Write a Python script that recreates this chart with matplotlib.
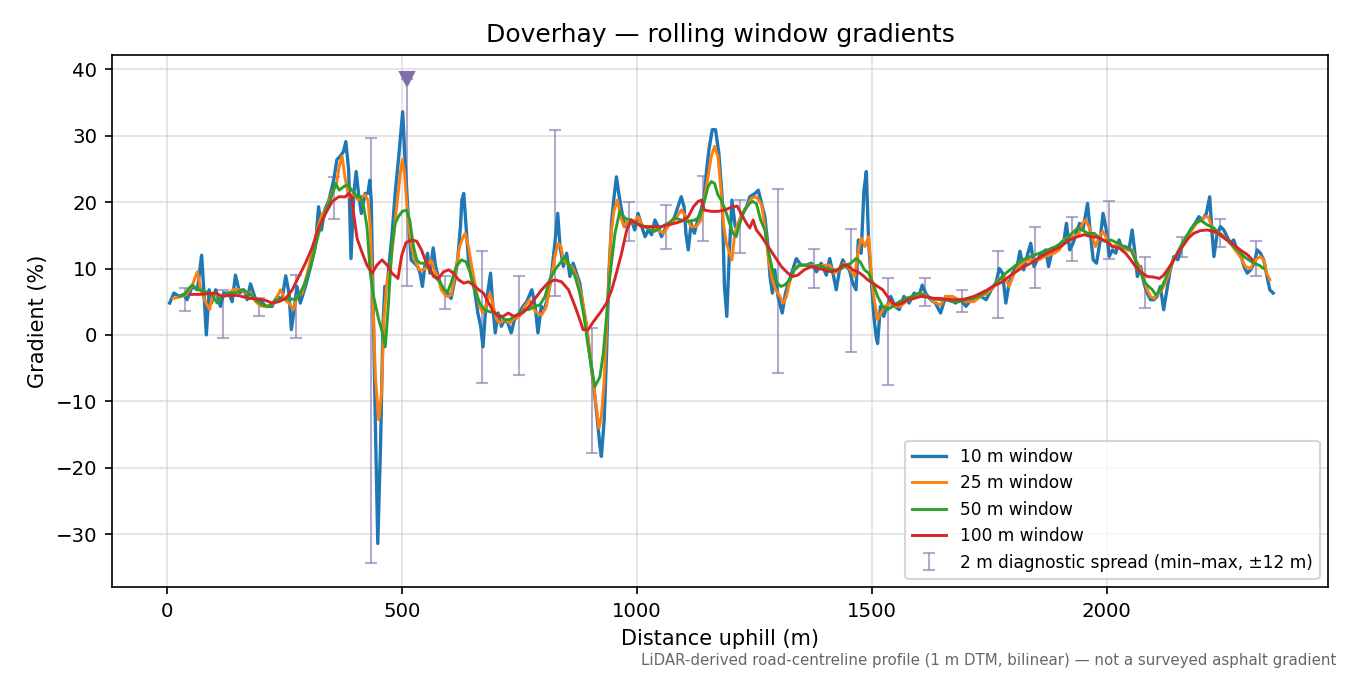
import matplotlib
matplotlib.use("Agg")
import matplotlib.pyplot as plt
import numpy as np

# ---------------- data ----------------
W10 = [(5,4.8),(14,6.3),(25,5.8),(35,6.1),(42,5.3),(53,7.3),(64,6.8),(73,12.0),(78,6.3),(83,0.0),(89,6.8),(94,4.8),(103,6.8),(113,4.3),(120,6.3),(131,6.3),(138,5.0),(145,9.0),(154,6.3),(163,6.8),(170,5.3),(177,7.7),(188,5.3),(198,5.3),(209,4.3),(223,4.3),(234,5.8),(244,5.3),(252,8.9),(259,6.3),(264,0.8),(269,3.3),(276,7.3),(283,4.8),(294,7.3),(305,10.3),(315,13.3),(322,19.3),(328,15.8),(335,18.8),(344,20.3),(354,23.3),(361,26.4),(368,26.9),(375,27.6),(380,29.1),(386,24.8),(391,11.5),(397,21.3),(402,24.6),(407,21.3),(413,18.3),(421,21.3),(427,21.3),(431,23.3),(434,20.3),(439,1.3),(443,-13.8),(448,-31.4),(454,-16.3),(459,1.3),(463,7.3),(468,7.3),(473,11.3),(478,14.8),(485,21.3),(492,26.4),(497,30.4),(501,33.6),(506,26.4),(512,18.8),(519,11.3),(526,10.8),(533,10.3),(538,9.3),(543,7.3),(548,10.3),(554,12.3),(559,9.3),(566,13.1),(571,10.3),(576,9.0),(583,7.3),(590,6.3),(597,6.3),(604,5.5),(612,8.3),(618,11.3),(624,16.3),(627,20.3),(631,21.3),(636,16.3),(641,11.3),(647,8.8),(654,6.8),(661,3.3),(667,1.3),(672,-1.8),(677,3.3),(682,6.3),(688,9.3),(693,4.3),(698,0.3),(704,3.3),(711,1.3),(718,2.3),(725,1.8),(732,0.3),(739,2.3),(746,2.8),(757,4.3),(765,5.0),(776,6.8),(783,4.3),(789,0.3),(796,4.3),(803,3.8),(810,5.8),(818,9.3),(825,13.8),(831,18.3),(836,13.3),(843,10.3),(850,12.3),(857,8.8),(864,10.8),(871,9.3),(878,7.8),(885,4.3),(892,1.3),(899,-2.8),(907,-7.3),(914,-11.8),(921,-16.8),(924,-18.3),(930,-12.8),(935,-2.8),(940,9.3),(946,17.3),(951,20.8),(956,23.8),(961,21.3),(967,18.8),(974,16.3),(981,17.3),(988,17.3),(995,15.8),(1002,18.3),(1010,16.3),(1017,14.8),(1024,15.8),(1031,15.1),(1038,17.3),(1045,16.3),(1052,14.8),(1062,16.3),(1073,16.8),(1080,17.8),(1087,19.3),(1094,20.8),(1100,19.3),(1104,15.3),(1109,12.8),(1115,16.8),(1122,15.3),(1129,17.3),(1136,18.8),(1143,20.8),(1148,24.8),(1153,27.9),(1160,30.9),(1167,30.9),(1174,27.4),(1181,20.8),(1186,7.3),(1191,2.8),(1197,13.3),(1202,20.3),(1209,16.3),(1216,16.3),(1223,18.0),(1233,19.3),(1240,20.8),(1251,21.3),(1258,21.8),(1265,19.8),(1272,17.8),(1278,13.8),(1283,8.8),(1288,6.3),(1293,9.8),(1300,5.8),(1309,3.3),(1316,6.3),(1322,7.8),(1329,9.3),(1339,11.5),(1349,10.5),(1360,10.5),(1371,10.8),(1382,9.5),(1392,10.8),(1403,9.0),(1410,11.5),(1417,9.3),(1424,6.8),(1431,9.8),(1438,11.3),(1445,10.3),(1452,9.8),(1459,7.8),(1466,6.8),(1471,14.3),(1477,12.3),(1483,21.8),(1488,24.6),(1493,13.8),(1498,8.8),(1504,2.8),(1509,-0.3),(1512,-1.3),(1518,4.3),(1525,2.8),(1532,4.3),(1540,5.8),(1549,4.3),(1558,3.8),(1568,5.8),(1579,4.8),(1590,6.3),(1600,5.8),(1607,7.5),(1614,6.3),(1625,5.3),(1635,4.8),(1646,3.3),(1657,5.8),(1667,5.3),(1678,4.8),(1689,5.3),(1700,4.3),(1711,5.3),(1721,5.8),(1732,5.8),(1743,5.3),(1754,6.8),(1764,7.8),(1771,10.0),(1778,9.3),(1785,4.8),(1792,7.8),(1799,9.3),(1809,10.3),(1815,12.6),(1823,9.8),(1830,11.8),(1838,13.8),(1845,10.3),(1852,11.3),(1861,12.3),(1870,12.8),(1876,10.3),(1884,12.8),(1893,12.8),(1902,13.8),(1909,14.3),(1914,16.8),(1921,12.8),(1928,13.8),(1935,15.3),(1942,16.8),(1949,15.8),(1954,17.8),(1959,19.8),(1965,15.3),(1971,11.3),(1978,10.8),(1985,13.8),(1992,18.3),(1999,15.8),(2005,11.8),(2012,12.8),(2019,12.3),(2026,14.3),(2033,12.8),(2040,13.3),(2047,12.8),(2054,15.8),(2059,12.8),(2065,8.8),(2072,10.3),(2079,7.8),(2086,6.3),(2093,5.3),(2100,5.3),(2107,5.8),(2114,7.3),(2121,3.8),(2128,6.8),(2135,9.8),(2143,11.8),(2151,11.3),(2160,13.3),(2169,14.3),(2178,15.8),(2188,16.8),(2196,17.8),(2203,17.3),(2212,18.3),(2219,20.8),(2224,15.3),(2228,11.8),(2235,15.3),(2242,16.3),(2249,15.8),(2256,14.8),(2263,13.8),(2270,14.3),(2277,12.8),(2284,12.3),(2292,10.3),(2299,9.3),(2306,9.8),(2314,10.8),(2320,12.8),(2327,12.3),(2334,11.3),(2341,8.8),(2347,6.8),(2354,6.3)]

W25 = [(12.5,5.5),(25,5.7),(39,6.0),(52,7.3),(64,9.5),(71,6.8),(81,5.0),(90,3.8),(97,6.3),(106,6.0),(118,5.8),(131,6.3),(142,6.9),(154,6.8),(166,6.3),(177,6.4),(188,5.0),(198,4.4),(213,4.2),(227,4.8),(241,6.8),(250,5.3),(259,4.8),(269,3.8),(276,5.8),(287,6.3),(298,9.3),(308,12.3),(319,15.8),(329,18.1),(340,19.3),(351,21.6),(359,22.3),(366,25.4),(372,26.9),(378,23.8),(386,20.8),(397,21.3),(406,20.3),(414,20.8),(421,21.1),(427,20.3),(432,16.3),(437,6.3),(443,-6.3),(450,-12.8),(456,-8.8),(461,2.3),(468,8.3),(475,10.3),(482,14.8),(489,19.8),(496,24.3),(500,26.4),(505,24.3),(509,20.3),(514,16.3),(520,13.3),(527,11.3),(536,9.8),(545,9.8),(554,10.3),(561,11.3),(568,9.8),(576,8.8),(583,6.8),(594,5.8),(604,6.0),(613,9.3),(622,13.3),(630,14.8),(634,15.3),(641,13.3),(648,10.3),(656,7.3),(665,4.3),(672,3.3),(680,4.8),(687,6.3),(694,4.3),(701,2.3),(708,1.8),(718,2.3),(729,1.8),(739,2.5),(750,2.8),(761,4.3),(771,5.3),(783,3.5),(797,3.0),(807,4.3),(818,8.8),(825,11.8),(832,13.8),(838,13.3),(843,11.3),(850,10.8),(861,10.3),(871,8.8),(882,5.8),(892,1.8),(899,-2.3),(907,-7.3),(914,-11.3),(919,-14.1),(924,-12.3),(930,-6.8),(937,4.3),(944,14.8),(951,18.8),(958,20.3),(965,17.8),(972,16.3),(981,17.3),(991,16.8),(1002,17.8),(1013,16.3),(1024,16.3),(1034,16.3),(1045,15.8),(1056,15.3),(1066,16.3),(1080,17.3),(1094,18.8),(1104,17.8),(1115,16.3),(1126,16.3),(1136,17.3),(1143,20.3),(1151,23.8),(1158,26.9),(1165,28.4),(1172,26.9),(1178,22.3),(1183,17.3),(1190,13.8),(1197,12.3),(1202,11.3),(1208,15.3),(1215,16.8),(1222,18.0),(1233,19.3),(1244,20.6),(1254,20.8),(1265,19.6),(1273,15.8),(1280,11.3),(1288,8.3),(1295,6.8),(1304,5.8),(1311,4.8),(1318,5.8),(1325,8.0),(1334,9.8),(1344,10.5),(1356,10.5),(1371,10.5),(1385,10.3),(1399,10.5),(1410,10.5),(1420,9.3),(1431,9.8),(1441,10.8),(1452,10.0),(1463,8.8),(1470,12.3),(1477,14.6),(1485,13.3),(1493,14.8),(1500,7.8),(1506,4.8),(1512,2.3),(1519,3.3),(1528,4.3),(1537,4.8),(1547,4.3),(1561,4.3),(1576,5.3),(1590,5.8),(1604,6.3),(1618,5.8),(1632,5.0),(1646,4.5),(1657,5.8),(1671,5.8),(1685,5.3),(1700,5.0),(1717,5.0),(1732,5.8),(1746,6.3),(1760,7.3),(1771,8.5),(1782,8.8),(1792,7.3),(1803,9.3),(1813,10.3),(1824,11.0),(1835,11.3),(1845,11.3),(1856,11.3),(1867,11.8),(1877,12.0),(1888,12.3),(1899,12.8),(1909,14.3),(1920,14.8),(1931,14.8),(1941,15.3),(1948,16.8),(1955,17.3),(1962,16.3),(1969,14.8),(1976,13.3),(1984,14.8),(1992,15.6),(2001,14.3),(2012,13.3),(2022,13.6),(2033,13.3),(2043,12.8),(2054,12.8),(2061,11.3),(2070,10.3),(2079,8.3),(2086,6.8),(2093,5.8),(2101,5.5),(2110,6.3),(2117,6.8),(2124,7.8),(2131,9.0),(2141,11.3),(2151,12.3),(2160,13.3),(2170,14.8),(2181,15.8),(2191,16.8),(2202,17.3),(2209,17.8),(2216,17.8),(2223,16.3),(2231,15.3),(2242,15.3),(2252,14.6),(2263,13.8),(2273,12.8),(2284,11.8),(2295,10.3),(2306,10.0),(2316,11.3),(2327,11.8),(2334,11.3),(2340,9.3),(2347,8.3)]

W50 = [(25,5.8),(35,6.0),(46,7.0),(53,7.5),(67,6.8),(81,6.5),(96,6.0),(106,4.8),(117,5.8),(131,6.3),(145,6.3),(159,6.8),(174,6.3),(188,5.3),(202,4.5),(216,4.3),(230,5.3),(244,5.3),(259,5.5),(273,5.3),(283,6.3),(294,8.0),(305,10.3),(315,13.3),(326,16.3),(337,18.8),(347,20.3),(358,22.8),(366,21.8),(375,22.3),(383,22.6),(393,21.8),(404,20.8),(411,20.8),(418,19.3),(425,16.3),(432,9.3),(439,5.8),(450,2.3),(458,0.3),(464,-1.8),(471,5.0),(478,13.3),(485,16.8),(492,17.8),(500,18.6),(509,18.8),(516,17.3),(524,13.3),(531,11.3),(538,10.8),(548,10.8),(559,9.8),(569,8.8),(580,8.0),(590,6.8),(597,6.5),(604,7.8),(615,10.3),(626,11.3),(636,11.0),(645,9.3),(654,6.8),(665,4.8),(675,3.8),(686,3.5),(696,3.3),(707,3.0),(718,2.3),(729,2.3),(739,2.8),(750,3.3),(761,3.8),(769,3.8),(783,4.3),(793,4.5),(804,5.8),(814,8.3),(825,9.8),(836,10.8),(846,11.8),(857,10.3),(868,8.8),(878,6.3),(887,2.8),(896,-1.8),(903,-4.8),(910,-7.8),(921,-6.3),(928,-2.8),(935,2.8),(942,8.8),(953,15.3),(963,18.6),(974,17.6),(984,17.3),(995,16.8),(1006,16.6),(1017,16.3),(1027,15.8),(1038,15.6),(1052,16.3),(1066,16.8),(1080,17.6),(1094,17.3),(1109,17.1),(1123,17.3),(1133,17.8),(1142,19.8),(1151,22.3),(1158,23.1),(1165,22.8),(1172,21.1),(1179,20.3),(1188,18.8),(1197,16.8),(1204,15.3),(1211,14.8),(1218,16.8),(1229,18.8),(1239,19.8),(1246,20.1),(1254,19.8),(1263,17.3),(1272,15.8),(1279,12.8),(1288,9.8),(1296,8.0),(1306,7.3),(1314,7.5),(1325,8.3),(1335,9.8),(1346,10.5),(1360,10.5),(1374,10.3),(1388,10.5),(1403,10.0),(1417,9.8),(1431,9.8),(1445,10.5),(1455,10.8),(1466,11.5),(1475,11.0),(1484,9.8),(1493,9.3),(1502,7.8),(1512,5.8),(1523,4.3),(1533,3.8),(1544,4.3),(1558,5.0),(1572,5.5),(1586,5.8),(1600,6.3),(1614,5.8),(1628,5.5),(1643,5.3),(1657,5.3),(1671,5.0),(1685,5.0),(1700,5.3),(1714,5.5),(1728,5.8),(1742,6.5),(1757,7.3),(1771,8.3),(1785,9.3),(1803,10.3),(1821,11.3),(1838,11.8),(1856,12.3),(1874,12.8),(1891,13.3),(1909,14.1),(1923,15.1),(1938,16.1),(1948,15.8),(1959,15.3),(1973,15.3),(1984,14.6),(1995,14.1),(2009,14.3),(2023,13.8),(2037,13.3),(2051,12.8),(2061,11.3),(2072,9.3),(2082,7.8),(2089,7.3),(2097,6.8),(2104,6.0),(2114,6.8),(2124,8.3),(2135,10.3),(2146,11.8),(2157,13.3),(2167,14.6),(2178,15.8),(2188,16.8),(2199,17.3),(2213,16.6),(2228,16.1),(2238,15.3),(2249,14.6),(2259,14.1),(2270,13.3),(2281,12.6),(2292,11.8),(2302,11.3),(2313,10.8),(2324,10.5),(2334,10.0)]

W100 = [(50,6.1),(67,6.1),(85,6.2),(103,6.3),(117,5.8),(135,6.0),(152,5.9),(174,5.5),(191,5.4),(209,5.2),(223,4.8),(237,5.0),(252,5.5),(266,6.8),(280,8.8),(294,10.8),(308,13.1),(322,16.1),(337,18.3),(351,20.1),(365,20.8),(379,20.8),(386,21.3),(392,20.8),(397,18.0),(404,14.5),(414,12.5),(425,10.5),(436,9.3),(446,10.5),(457,11.3),(468,10.5),(478,9.3),(491,8.5),(499,12.0),(508,13.9),(521,14.3),(531,14.1),(541,12.8),(549,11.3),(558,10.0),(567,8.8),(577,8.5),(588,9.5),(599,9.8),(609,9.3),(620,8.3),(631,7.8),(641,8.0),(652,7.5),(663,6.8),(673,6.3),(684,4.8),(694,3.5),(705,2.8),(715,2.8),(726,3.3),(737,2.8),(747,3.0),(758,3.4),(769,4.2),(783,5.5),(797,6.8),(810,7.8),(825,8.3),(839,8.0),(854,6.8),(868,4.3),(878,2.3),(885,0.8),(896,0.8),(907,2.0),(921,3.3),(935,4.8),(946,6.8),(956,9.3),(967,12.3),(978,15.8),(988,17.3),(999,16.8),(1010,16.3),(1024,16.3),(1038,16.3),(1052,16.3),(1066,16.6),(1080,16.8),(1094,17.1),(1109,17.8),(1120,19.3),(1130,20.1),(1137,20.3),(1143,18.8),(1158,18.6),(1172,18.6),(1186,18.8),(1200,19.2),(1213,19.4),(1222,18.2),(1233,16.8),(1240,16.1),(1247,17.3),(1254,15.8),(1265,14.8),(1279,13.3),(1293,11.8),(1307,10.3),(1321,9.3),(1331,8.8),(1342,9.0),(1356,9.8),(1371,10.3),(1385,10.0),(1399,9.8),(1413,9.5),(1427,9.8),(1438,10.5),(1448,10.5),(1459,9.8),(1470,9.5),(1480,9.0),(1491,8.3),(1502,7.8),(1512,7.3),(1523,6.8),(1533,5.8),(1544,4.8),(1554,4.5),(1565,4.8),(1576,5.3),(1590,5.5),(1604,5.8),(1618,5.7),(1632,5.5),(1646,5.5),(1660,5.3),(1675,5.3),(1689,5.3),(1703,5.5),(1717,5.8),(1732,6.3),(1746,6.8),(1760,7.4),(1775,7.9),(1796,9.0),(1817,10.0),(1838,10.8),(1860,11.8),(1881,12.6),(1902,13.3),(1920,14.3),(1938,14.8),(1952,15.1),(1966,14.8),(1980,14.7),(1998,14.1),(2012,13.3),(2026,13.1),(2040,12.3),(2051,11.3),(2061,10.3),(2072,9.5),(2086,8.8),(2100,8.7),(2112,8.5),(2121,9.0),(2131,10.0),(2143,11.3),(2153,12.6),(2164,13.6),(2174,14.6),(2185,15.3),(2199,15.7),(2213,15.8),(2228,15.6),(2242,15.1),(2256,14.3),(2270,13.6),(2284,12.8),(2299,12.1),(2310,11.3)]

SPREAD_X = [38, 118, 196, 274, 355, 433, 510, 591, 670, 748, 825, 905, 982, 1061, 1141, 1220, 1299, 1377, 1456, 1534, 1613, 1691, 1768, 1847, 1925, 2004, 2082, 2161, 2240, 2318]
SPREAD_LO = [3.6, -0.5, 2.8, -0.5, 17.5, -34.3, 7.4, 3.9, -7.3, -6.1, 5.9, -17.8, 14.2, 13.0, 14.2, 12.4, -5.8, 7.1, -2.5, -7.6, 4.4, 3.4, 2.6, 7.0, 11.2, 11.5, 4.1, 11.8, 13.3, 8.8]
SPREAD_HI = [7.1, 6.8, 5.6, 9.0, 23.8, 29.6, 38.6, 8.9, 12.7, 8.9, 30.9, 1.0, 20.0, 19.5, 23.9, 20.3, 22.0, 12.9, 16.0, 8.5, 8.6, 6.8, 12.7, 16.3, 17.8, 20.1, 11.7, 14.8, 17.4, 14.2]
CLIPPED_X = [510]
CLIPPED_Y = [38.6]

SERIES = [("10 m window", W10, "#1f77b4", 1.6),
          ("25 m window", W25, "#ff7f0e", 1.4),
          ("50 m window", W50, "#2ca02c", 1.4),
          ("100 m window", W100, "#d62728", 1.4)]

# ---------------- plot ----------------
fig = plt.figure(figsize=(9, 4.5), dpi=150)
ax = fig.add_axes([0.083, 0.130, 0.901, 0.789])

lo = np.array(SPREAD_LO); hi = np.array(SPREAD_HI)
mid = (lo + hi) / 2
err_c = "#8c7db3"
ax.errorbar(SPREAD_X, mid, yerr=[mid - lo, hi - mid], fmt="none", ecolor=err_c,
            alpha=0.65, elinewidth=1.0, capsize=3, capthick=1.0, zorder=1,
            label="2 m diagnostic spread (min\u2013max, \u00b112 m)")

for name, pts, col, lw in SERIES:
    xs = [p[0] for p in pts]; ys = [p[1] for p in pts]
    ax.plot(xs, ys, color=col, lw=lw, label=name, zorder=2)

ax.plot(CLIPPED_X, CLIPPED_Y, marker="v", ls="none", color="#8070a8", ms=7, zorder=3)

ax.set_xlim(-117.7, 2471.7)
ax.set_ylim(-38.0, 42.2)
ax.grid(True, color="#cccccc", alpha=0.6, lw=0.8)
ax.set_axisbelow(True)
ax.set_title("Doverhay \u2014 rolling window gradients", fontsize=12)
ax.set_xlabel("Distance uphill (m)", fontsize=10)
ax.set_ylabel("Gradient (%)", fontsize=10)
ax.tick_params(labelsize=9.5)

ax.legend(loc="lower right", fontsize=8.2)

fig.text(0.9896, 0.022, "LiDAR-derived road-centreline profile (1 m DTM, bilinear) \u2014 not a surveyed asphalt gradient",
         ha="right", va="center", fontsize=7.2, color="#666666")

fig.savefig("out.png", dpi=150)
